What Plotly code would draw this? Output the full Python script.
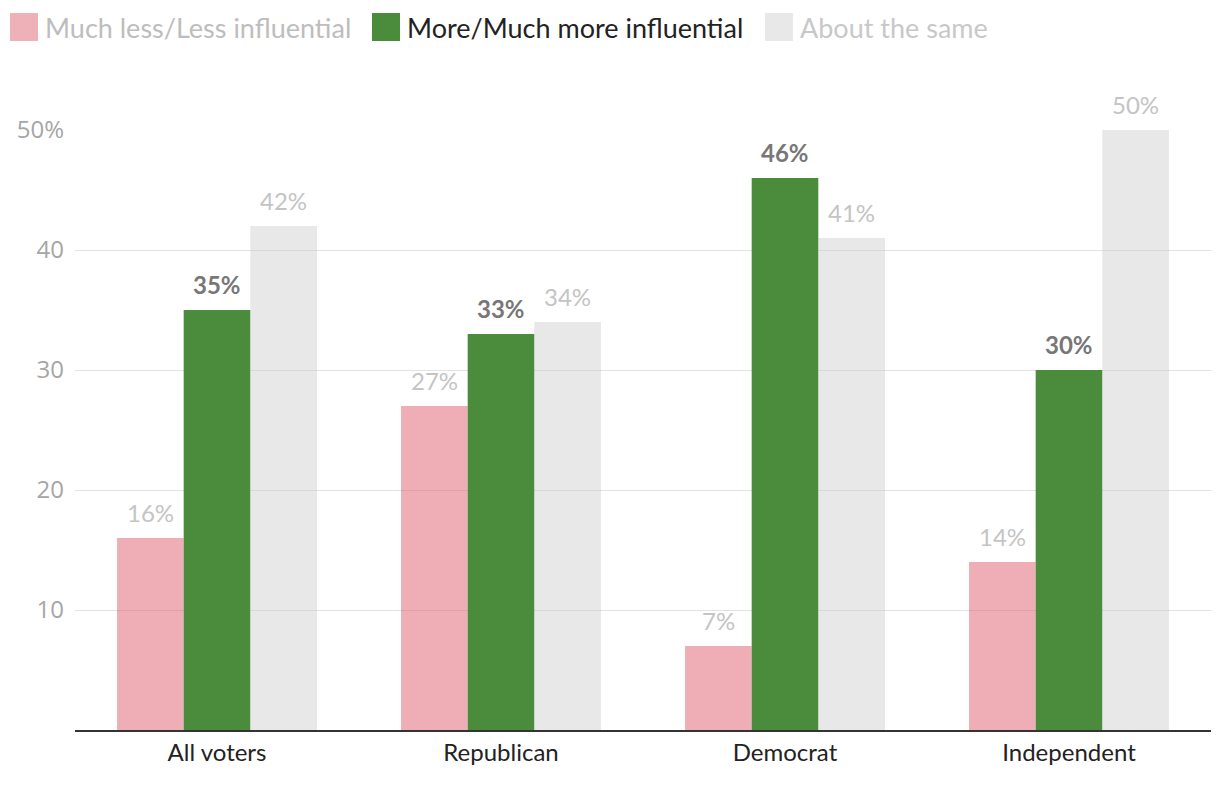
import plotly.graph_objects as go

categories = ["All voters", "Republican", "Democrat", "Independent"]
series_names = ["Much less/Less influential", "More/Much more influential", "About the same"]
less_vals = [16, 27, 7, 14]
more_vals = [35, 33, 46, 30]
same_vals = [42, 34, 41, 50]
y_tickvals = [10, 20, 30, 40, 50]
y_ticktext = ["10", "20", "30", "40", "50%"]

bar_colors = ["rgba(225,100,115,0.52)", "#4a8c3c", "rgba(200,200,200,0.42)"]
label_colors = ["#c4c4c4", "#777777", "#c4c4c4"]
label_bold = [False, True, False]
legend_text_colors = ["#bdbdbd", "#222222", "#c8c8c8"]
legend_square_colors = ["#efb1b8", "#4a8c3c", "#e8e8e8"]

all_series = [less_vals, more_vals, same_vals]

fig = go.Figure()
for name, vals, col in zip(series_names, all_series, bar_colors):
    fig.add_trace(go.Bar(
        x=categories, y=vals, name=name,
        marker=dict(color=col, line=dict(width=0)),
        showlegend=False, hoverinfo="x+y",
    ))

# value labels above bars
bargap = 0.296
bw = (1 - bargap) / 3
for si, vals in enumerate(all_series):
    off = (si - 1) * bw
    for ci, v in enumerate(vals):
        txt = f"{v}%"
        if label_bold[si]:
            txt = f"<b>{txt}</b>"
        fig.add_annotation(
            x=ci + off, y=v, xref="x", yref="y", text=txt,
            showarrow=False, yanchor="bottom", xanchor="center", yshift=9,
            font=dict(family="Lato, Noto Sans, sans-serif", size=24, color=label_colors[si]),
        )

# legend drawn at top (pixel positions relative to plot area: left=75, top=130, h=600, w=1136)
leg_x = [10, 372, 765]
for i, name in enumerate(series_names):
    fig.add_shape(type="rect", xref="paper", yref="paper",
                  x0=(leg_x[i] - 75) / 1136, x1=(leg_x[i] + 28 - 75) / 1136,
                  y0=(730 - 41) / 600, y1=(730 - 13) / 600,
                  fillcolor=legend_square_colors[i], line=dict(width=0))
    fig.add_annotation(
        x=(leg_x[i] + 33 - 75) / 1136, y=(730 - 27) / 600, xref="paper", yref="paper",
        text=name, showarrow=False, xanchor="left", yanchor="middle",
        font=dict(family="Lato, Noto Sans, sans-serif", size=27, color=legend_text_colors[i]),
    )

fig.update_layout(
    width=1212, height=780,
    margin=dict(l=67, r=9, t=122, b=58),
    paper_bgcolor="white", plot_bgcolor="white",
    barmode="group", bargap=bargap, bargroupgap=0,
    showlegend=False,
    xaxis=dict(
        type="category", showgrid=False, showline=True, linecolor="#333333", linewidth=2,
        ticks="", tickfont=dict(family="Lato, Noto Sans, sans-serif", size=24, color="#222222"),
        fixedrange=True,
    ),
    yaxis=dict(
        range=[0, 50], tickvals=y_tickvals, ticktext=y_ticktext,
        showgrid=True, gridcolor="#e2e2e2", gridwidth=1, zeroline=False,
        showline=False, ticks="", ticklabelstandoff=10,
        tickfont=dict(family="Open Sans, sans-serif", size=24, color="#a6a6a6"),
        fixedrange=True,
    ),
)

fig.write_html("out.html")
